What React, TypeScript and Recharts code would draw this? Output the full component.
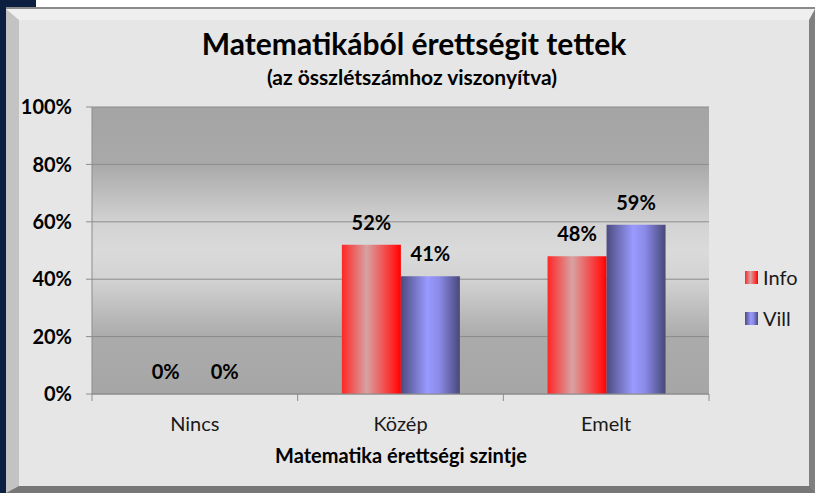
import React from 'react';
import { BarChart, Bar, XAxis, YAxis, CartesianGrid, LabelList, Legend } from 'recharts';

const categories = ['Nincs', 'Közép', 'Emelt'];
const infoValues = [0, 52, 48];
const villValues = [0, 41, 59];
const yTicks = [0, 20, 40, 60, 80, 100];
const seriesNames = ['Info', 'Vill'];
const chartTitle = 'Matematikából érettségit tettek';
const chartSubtitle = '(az összlétszámhoz viszonyítva)';
const xAxisTitle = 'Matematika érettségi szintje';

const data = categories.map((c, i) => ({ cat: c, Info: infoValues[i], Vill: villValues[i] }));

const W = 815;
const H = 493;
const M = { top: 107, right: 106, bottom: 69, left: 12 };
const YW = 80;
const XH = 30;
const PLOT_W = W - M.left - YW - M.right;
const BAND = PLOT_W / categories.length;
const FONT = 'Lato, "Open Sans", sans-serif';
const AXIS_GRAY = '#8c8c8c';

const INFO_CSS = 'linear-gradient(90deg,#ff2626 0%,#d8a2a2 42%,#ff2222 88%,#ff0000 100%)';
const VILL_CSS = 'linear-gradient(90deg,#4c4c80 0%,#9a9aff 45%,#8a8ae8 65%,#48487a 100%)';

const XTick = (props: any) => {
  const { x, y, payload, index } = props;
  const isLast = index === categories.length - 1;
  return (
    <g>
      <line x1={x - BAND / 2} x2={x - BAND / 2} y1={y} y2={y + 7} stroke={AXIS_GRAY} />
      {isLast && <line x1={x + BAND / 2} x2={x + BAND / 2} y1={y} y2={y + 7} stroke={AXIS_GRAY} />}
      <text x={x} y={y + 37} textAnchor="middle" fontFamily={FONT} fontSize={20} fill="#1a1a1a">
        {payload.value}
      </text>
    </g>
  );
};

const renderLegend = () => (
  <div style={{ position: 'relative', width: 70, height: 70, fontFamily: FONT }}>
    {seriesNames.map((n, i) => (
      <div
        key={n}
        style={{ position: 'absolute', left: 0, top: i * 41, height: 20, display: 'flex', alignItems: 'center' }}
      >
        <div style={{ width: 13, height: 13, background: i === 0 ? INFO_CSS : VILL_CSS }} />
        <span style={{ marginLeft: 5, fontSize: 20, color: '#1a1a1a', lineHeight: '20px' }}>{n}</span>
      </div>
    ))}
  </div>
);

export default function App() {
  return (
    <div style={{ position: 'absolute', left: 0, top: 0, width: W, height: H, background: '#ffffff', overflow: 'hidden' }}>
      <div style={{ position: 'absolute', left: 0, top: 0, width: 6, height: H, background: '#0c1f40' }} />
      <div style={{ position: 'absolute', left: 0, top: 0, width: 36, height: 7, background: '#0c1f40' }} />
      <div style={{ position: 'absolute', left: 6, top: 7, width: W - 6, height: 2, background: '#8a8a8a' }} />
      <div
        style={{
          position: 'absolute',
          left: 6,
          top: 9,
          width: W - 6,
          height: H - 9,
          boxSizing: 'border-box',
          borderTop: '11px solid #efefef',
          borderLeft: '13px solid #c3c3c3',
          borderRight: '6px solid #808080',
          borderBottom: '7px solid #777777',
          background: '#e6e6e6',
        }}
      />
      <div style={{ position: 'absolute', left: 0, top: 0 }}>
        <BarChart width={W} height={H} data={data} margin={M} barCategoryGap="21.5%" barGap={0}>
          <defs>
            <linearGradient id="plotBg" x1="0" y1="0" x2="0" y2="1">
              <stop offset="0%" stopColor="#a4a4a4" />
              <stop offset="20%" stopColor="#a9a9a9" />
              <stop offset="40%" stopColor="#d2d2d2" />
              <stop offset="50%" stopColor="#dadada" />
              <stop offset="60%" stopColor="#d3d3d3" />
              <stop offset="80%" stopColor="#ababab" />
              <stop offset="100%" stopColor="#a6a6a6" />
            </linearGradient>
            <linearGradient id="infoGrad" x1="0" y1="0" x2="1" y2="0">
              <stop offset="0%" stopColor="#ff2626" />
              <stop offset="42%" stopColor="#d8a2a2" />
              <stop offset="88%" stopColor="#ff2222" />
              <stop offset="100%" stopColor="#ff0000" />
            </linearGradient>
            <linearGradient id="villGrad" x1="0" y1="0" x2="1" y2="0">
              <stop offset="0%" stopColor="#4c4c80" />
              <stop offset="45%" stopColor="#9a9aff" />
              <stop offset="65%" stopColor="#8a8ae8" />
              <stop offset="100%" stopColor="#48487a" />
            </linearGradient>
          </defs>
          <CartesianGrid vertical={false} stroke={AXIS_GRAY} fill="url(#plotBg)" fillOpacity={1} />
          <XAxis
            dataKey="cat"
            height={XH}
            tickSize={0}
            tickMargin={0}
            tickLine={false}
            axisLine={{ stroke: AXIS_GRAY }}
            tick={<XTick />}
            interval={0}
          />
          <YAxis
            width={YW}
            domain={[0, 100]}
            ticks={yTicks}
            tickFormatter={(v: number) => `${v}%`}
            tickSize={6}
            tickMargin={14}
            axisLine={{ stroke: AXIS_GRAY }}
            tickLine={{ stroke: AXIS_GRAY }}
            tick={{ fontFamily: FONT, fontSize: 20, fontWeight: 700, fill: '#000' }}
          />
          <Legend
            layout="vertical"
            align="center"
            verticalAlign="middle"
            content={renderLegend}
            wrapperStyle={{ left: 745, top: 267, width: 70 }}
          />
          <Bar dataKey="Info" name={seriesNames[0]} fill="url(#infoGrad)" minPointSize={0.01} isAnimationActive={false}>
            <LabelList
              dataKey="Info"
              position="top"
              offset={15}
              formatter={(v: any) => `${v}%`}
              fill="#000"
              fontSize={20}
              fontWeight={700}
              fontFamily={FONT}
            />
          </Bar>
          <Bar dataKey="Vill" name={seriesNames[1]} fill="url(#villGrad)" minPointSize={0.01} isAnimationActive={false}>
            <LabelList
              dataKey="Vill"
              position="top"
              offset={15}
              formatter={(v: any) => `${v}%`}
              fill="#000"
              fontSize={20}
              fontWeight={700}
              fontFamily={FONT}
            />
          </Bar>
        </BarChart>
      </div>
      <svg width={W} height={H} style={{ position: 'absolute', left: 0, top: 0, pointerEvents: 'none' }}>
        <text x={414} y={55} textAnchor="middle" fontFamily={FONT} fontWeight={700} fontSize={30} fill="#000">
          {chartTitle}
        </text>
        <text x={412} y={85} textAnchor="middle" fontFamily={FONT} fontWeight={700} fontSize={21} fill="#000">
          {chartSubtitle}
        </text>
        <text x={401} y={463} textAnchor="middle" fontFamily={FONT} fontWeight={700} fontSize={20} fill="#000">
          {xAxisTitle}
        </text>
      </svg>
    </div>
  );
}
